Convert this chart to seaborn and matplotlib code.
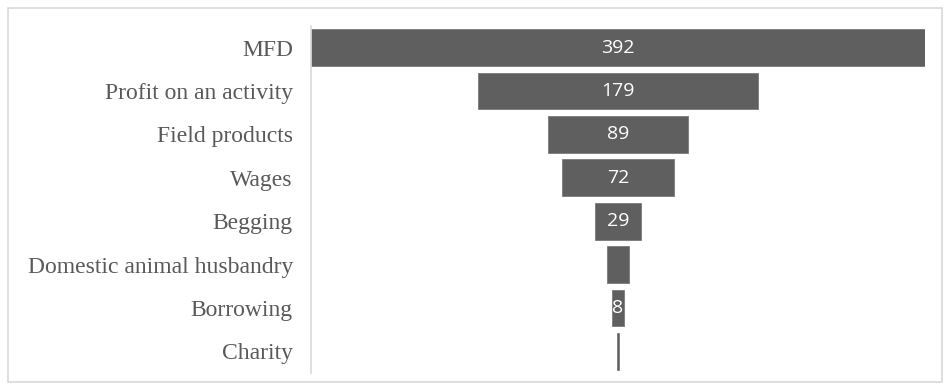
import matplotlib
matplotlib.use("Agg")
import matplotlib.pyplot as plt
import seaborn as sns
import pandas as pd
from matplotlib.patches import Rectangle

categories = ["MFD", "Profit on an activity", "Field products", "Wages", "Begging",
              "Domestic animal husbandry", "Borrowing", "Charity"]
values = [392, 179, 89, 72, 29, 14, 8, 1]
shown_labels = ["392", "179", "89", "72", "29", None, "8", None]

df = pd.DataFrame({"category": categories, "value": values})

sns.set_theme(style="white")
fig = plt.figure(figsize=(9.45, 3.9), dpi=100)
ax = fig.add_axes([311/945, 1 - 373/390, (925 - 311)/945, (373 - 26)/390])

sns.barplot(data=df, x="value", y="category", orient="h", color="#5f5f5f",
            saturation=1, width=0.85, ax=ax, edgecolor="#7a7a7a", linewidth=0.6)

vmax = max(values)
for patch, v in zip(ax.patches, values):
    patch.set_x((vmax - patch.get_width()) / 2)

for i, (lab, v) in enumerate(zip(shown_labels, values)):
    if lab is not None:
        ax.text(vmax / 2, i, lab, ha="center", va="center", color="white",
                fontsize=14, family=["Open Sans", "DejaVu Sans"])

ax.set_xlim(0, vmax)
ax.set_ylim(7.5, -0.5)
ax.set_xlabel("")
ax.set_ylabel("")
ax.set_xticks([])
ax.tick_params(axis="y", length=0, pad=13)
for t in ax.get_yticklabels():
    t.set_family(["Liberation Serif"])
    t.set_fontsize(17)
    t.set_color("#595959")
for s in ["top", "right", "bottom"]:
    ax.spines[s].set_visible(False)
ax.spines["left"].set_color("#d9d9d9")
ax.spines["left"].set_linewidth(1.2)

fig.patches.append(Rectangle((8/945, 1 - 382/390), (942 - 8)/945, (382 - 8)/390,
                             transform=fig.transFigure, fill=False,
                             edgecolor="#d9d9d9", linewidth=1.2))

fig.savefig("out.png", dpi=100)
